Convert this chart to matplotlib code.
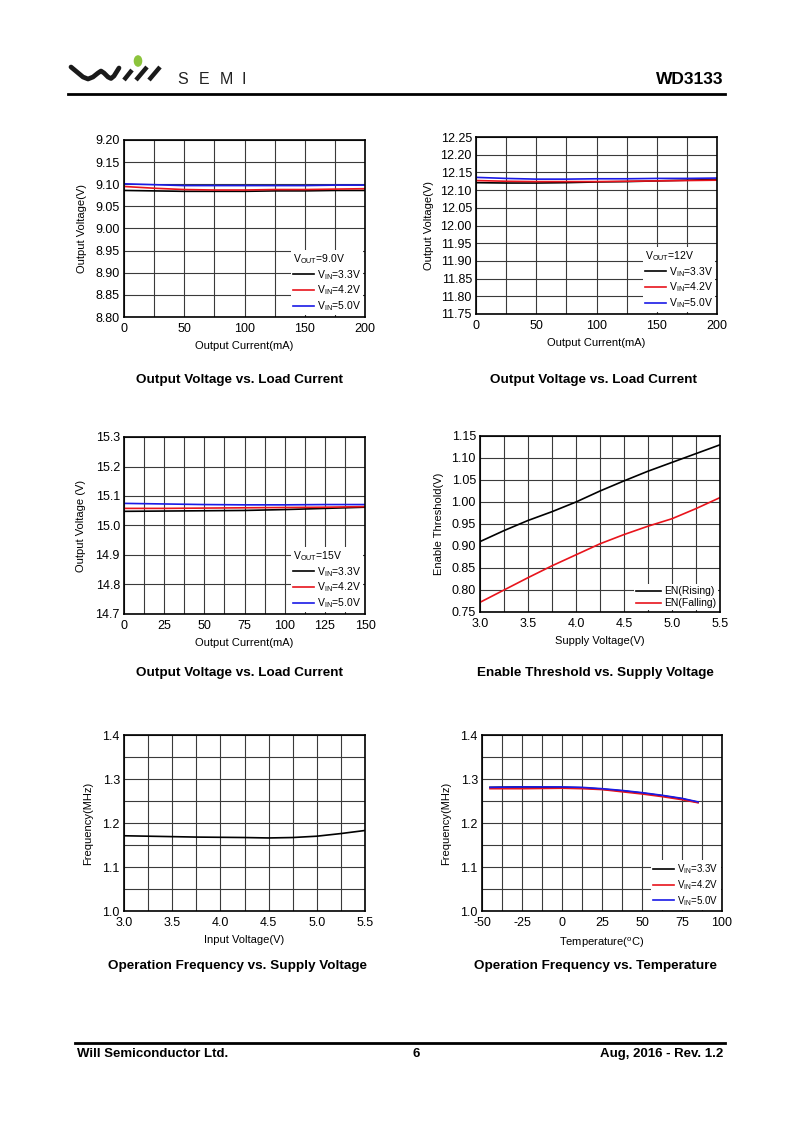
import matplotlib
matplotlib.use("Agg")
import matplotlib.pyplot as plt
from matplotlib.lines import Line2D
from matplotlib.patches import Circle
import numpy as np

plt.rcParams['font.family'] = ['Liberation Sans', 'DejaVu Sans']
plt.rcParams['mathtext.fontset'] = 'custom'
plt.rcParams['mathtext.rm'] = 'Liberation Sans'
plt.rcParams['mathtext.it'] = 'Liberation Sans'

# ---------------- data ----------------
# Chart 1: Vout=9.0V
c1_x = [0, 25, 50, 75, 100, 125, 150, 175, 200]
c1_33 = [9.086, 9.085, 9.084, 9.084, 9.084, 9.085, 9.085, 9.086, 9.086]
c1_42 = [9.095, 9.091, 9.088, 9.087, 9.087, 9.088, 9.088, 9.089, 9.090]
c1_50 = [9.101, 9.099, 9.097, 9.097, 9.097, 9.097, 9.097, 9.098, 9.098]

# Chart 2: Vout=12V
c2_x = [0, 25, 50, 75, 100, 125, 150, 175, 200]
c2_33 = [12.121, 12.120, 12.120, 12.121, 12.123, 12.124, 12.126, 12.128, 12.130]
c2_42 = [12.127, 12.125, 12.124, 12.124, 12.124, 12.125, 12.126, 12.127, 12.128]
c2_50 = [12.136, 12.133, 12.131, 12.131, 12.132, 12.132, 12.133, 12.133, 12.134]

# Chart 3: Vout=15V
c3_x = [0, 25, 50, 75, 100, 125, 150]
c3_33 = [15.048, 15.049, 15.050, 15.051, 15.054, 15.058, 15.062]
c3_42 = [15.058, 15.058, 15.059, 15.060, 15.061, 15.062, 15.064]
c3_50 = [15.075, 15.073, 15.071, 15.070, 15.070, 15.071, 15.071]

# Chart 4: Enable threshold
c4_x = [3.0, 3.25, 3.5, 3.75, 4.0, 4.25, 4.5, 4.75, 5.0, 5.25, 5.5]
c4_rise = [0.910, 0.935, 0.958, 0.978, 1.000, 1.025, 1.048, 1.070, 1.090, 1.110, 1.130]
c4_fall = [0.772, 0.800, 0.828, 0.855, 0.880, 0.905, 0.926, 0.945, 0.962, 0.985, 1.010]

# Chart 5: Frequency vs input voltage
c5_x = [3.0, 3.25, 3.5, 3.75, 4.0, 4.25, 4.5, 4.75, 5.0, 5.25, 5.5]
c5_f = [1.171, 1.170, 1.169, 1.168, 1.1675, 1.167, 1.166, 1.167, 1.170, 1.176, 1.183]

# Chart 6: Frequency vs temperature
c6_x = [-45, -25, 0, 12.5, 25, 37.5, 50, 62.5, 75, 85]
c6_33 = [1.281, 1.282, 1.281, 1.280, 1.277, 1.273, 1.268, 1.262, 1.255, 1.247]
c6_42 = [1.278, 1.278, 1.279, 1.278, 1.276, 1.271, 1.266, 1.260, 1.253, 1.246]
c6_50 = [1.281, 1.282, 1.282, 1.281, 1.278, 1.274, 1.269, 1.263, 1.256, 1.248]

lbl33 = r'V$_{\mathregular{IN}}$=3.3V'
lbl42 = r'V$_{\mathregular{IN}}$=4.2V'
lbl50 = r'V$_{\mathregular{IN}}$=5.0V'

W, H = 800, 1131
fig = plt.figure(figsize=(W / 100, H / 100), dpi=100)

RED = '#e8141c'
BLUE = '#1a1ae6'


def box(l, r, t, b):
    return [l / W, 1 - b / H, (r - l) / W, (b - t) / H]


def style(ax, xlim, ylim, xmaj, xmin, ymaj, yfmt, xfmt):
    ax.set_xlim(*xlim)
    ax.set_ylim(*ylim)
    ax.set_xticks(xmaj)
    ax.set_xticks(xmin, minor=True)
    ax.set_yticks(ymaj)
    ax.set_xticklabels([xfmt(v) for v in xmaj])
    ax.set_yticklabels([yfmt.format(v) for v in ymaj])
    ax.tick_params(which='both', length=0, labelsize=9, colors='black')
    ax.tick_params(axis='x', pad=4)
    ax.tick_params(axis='y', pad=3)
    ax.grid(True, which='both', color='#3a3a3a', linewidth=0.8)
    ax.set_axisbelow(True)
    for s in ax.spines.values():
        s.set_linewidth(1.2)
        s.set_color('black')


def leg(ax, title=None, fs=7.5, hl=2.0):
    lg = ax.legend(loc='lower right', fontsize=fs, frameon=True, fancybox=False,
                   edgecolor='none', framealpha=1, borderaxespad=0.15,
                   handlelength=hl, handletextpad=0.3, labelspacing=0.2,
                   borderpad=0.2, title=title, title_fontsize=fs,
                   alignment='left')
    return lg


xint = lambda v: f"{int(v)}"
x1f = lambda v: f"{v:.1f}"
LFS = 8

# Chart 1
ax1 = fig.add_axes(box(124, 365, 140, 317))
ax1.plot(c1_x, c1_33, color='black', lw=1.2, label=lbl33)
ax1.plot(c1_x, c1_42, color=RED, lw=1.2, label=lbl42)
ax1.plot(c1_x, c1_50, color=BLUE, lw=1.2, label=lbl50)
style(ax1, (0, 200), (8.80, 9.20), [0, 50, 100, 150, 200], np.arange(0, 201, 25),
      np.round(np.arange(8.80, 9.201, 0.05), 2), "{:.2f}", xint)
leg(ax1, r'V$_{\mathregular{OUT}}$=9.0V')
ax1.set_xlabel('Output Current(mA)', fontsize=LFS, labelpad=4.5)
ax1.set_ylabel('Output Voltage(V)', fontsize=LFS, labelpad=6)

# Chart 2
ax2 = fig.add_axes(box(476, 717, 137, 314))
ax2.plot(c2_x, c2_33, color='black', lw=1.2, label=lbl33)
ax2.plot(c2_x, c2_42, color=RED, lw=1.2, label=lbl42)
ax2.plot(c2_x, c2_50, color=BLUE, lw=1.2, label=lbl50)
style(ax2, (0, 200), (11.75, 12.25), [0, 50, 100, 150, 200], np.arange(0, 201, 25),
      np.round(np.arange(11.75, 12.251, 0.05), 2), "{:.2f}", xint)
leg(ax2, r'V$_{\mathregular{OUT}}$=12V')
ax2.set_xlabel('Output Current(mA)', fontsize=LFS, labelpad=4.5)
ax2.set_ylabel('Output Voltage(V)', fontsize=LFS, labelpad=5)

# Chart 3
ax3 = fig.add_axes(box(124, 365, 437, 614))
ax3.plot(c3_x, c3_33, color='black', lw=1.2, label=lbl33)
ax3.plot(c3_x, c3_42, color=RED, lw=1.2, label=lbl42)
ax3.plot(c3_x, c3_50, color=BLUE, lw=1.2, label=lbl50)
style(ax3, (0, 150), (14.7, 15.3), [0, 25, 50, 75, 100, 125, 150], np.arange(0, 150.1, 12.5),
      np.round(np.arange(14.7, 15.301, 0.1), 1), "{:.1f}", xint)
leg(ax3, r'V$_{\mathregular{OUT}}$=15V')
ax3.set_xlabel('Output Current(mA)', fontsize=LFS, labelpad=4.5)
ax3.set_ylabel('Output Voltage (V)', fontsize=LFS, labelpad=7)

# Chart 4
ax4 = fig.add_axes(box(480, 720, 436, 612))
ax4.plot(c4_x, c4_rise, color='black', lw=1.2, label='EN(Rising)')
ax4.plot(c4_x, c4_fall, color=RED, lw=1.2, label='EN(Falling)')
style(ax4, (3.0, 5.5), (0.75, 1.15), [3.0, 3.5, 4.0, 4.5, 5.0, 5.5], np.arange(3.0, 5.51, 0.25),
      np.round(np.arange(0.75, 1.151, 0.05), 2), "{:.2f}", x1f)
leg(ax4, hl=2.4)
ax4.set_xlabel('Supply Voltage(V)', fontsize=LFS, labelpad=4.5)
ax4.set_ylabel('Enable Threshold(V)', fontsize=LFS, labelpad=5.5)

# Chart 5
ax5 = fig.add_axes(box(124, 365, 735, 911))
ax5.plot(c5_x, c5_f, color='black', lw=1.2)
style(ax5, (3.0, 5.5), (1.0, 1.4), [3.0, 3.5, 4.0, 4.5, 5.0, 5.5], np.arange(3.0, 5.51, 0.25),
      np.round(np.arange(1.0, 1.401, 0.1), 1), "{:.1f}", x1f)
ax5.set_yticks(np.round(np.arange(1.0, 1.401, 0.05), 2), minor=True)
ax5.set_xlabel('Input Voltage(V)', fontsize=LFS, labelpad=4.5)
ax5.set_ylabel('Frequency(MHz)', fontsize=LFS, labelpad=7)

# Chart 6
ax6 = fig.add_axes(box(482, 722, 735, 911))
ax6.plot(c6_x, c6_33, color='black', lw=1.2, label=lbl33)
ax6.plot(c6_x, c6_42, color=RED, lw=1.2, label=lbl42)
ax6.plot(c6_x, c6_50, color=BLUE, lw=1.2, label=lbl50)
style(ax6, (-50, 100), (1.0, 1.4), [-50, -25, 0, 25, 50, 75, 100], np.arange(-50, 100.1, 12.5),
      np.round(np.arange(1.0, 1.401, 0.1), 1), "{:.1f}", xint)
ax6.set_yticks(np.round(np.arange(1.0, 1.401, 0.05), 2), minor=True)
leg(ax6, fs=7, hl=2.2)
ax6.set_xlabel(r'Temperature($^{\mathregular{o}}$C)', fontsize=LFS, labelpad=5)
ax6.set_ylabel('Frequency(MHz)', fontsize=LFS, labelpad=7)

# Titles
def ftext(x, y, s, **kw):
    fig.text(x / W, 1 - y / H, s, **kw)

tkw = dict(fontsize=9.7, fontweight='bold', ha='center', va='center')
ftext(240, 380, 'Output Voltage vs. Load Current', **tkw)
ftext(594, 380, 'Output Voltage vs. Load Current', **tkw)
ftext(240, 673, 'Output Voltage vs. Load Current', **tkw)
ftext(595, 673, 'Enable Threshold vs. Supply Voltage', **tkw)
ftext(238, 966, 'Operation Frequency vs. Supply Voltage', **tkw)
ftext(595, 966, 'Operation Frequency vs. Temperature', **tkw)

# Header
ftext(723, 79, 'WD3133', fontsize=12.5, fontweight='bold', ha='right', va='center')
fig.add_artist(Line2D([68 / W, 725 / W], [1 - 94 / H, 1 - 94 / H], color='black', lw=2))
for xc, ch in [(183, 'S'), (204, 'E'), (226, 'M'), (244, 'I')]:
    ftext(xc, 79, ch, fontsize=11.5, ha='center', va='center', color='#222222')

# Logo (w + slashes + green dot)
def px(pts):
    xs = [p[0] / W for p in pts]
    ys = [1 - p[1] / H for p in pts]
    return xs, ys

wx, wy = px([(71, 67), (77, 72), (83, 77), (88, 79), (93, 77), (98, 73), (101, 71),
             (104, 73), (108, 77), (111, 78.5), (114, 76), (119, 68)])
fig.add_artist(Line2D(wx, wy, color='#1a1a1a', lw=3.4, solid_capstyle='round', solid_joinstyle='round'))
for (a, b) in [((124, 80), (132, 70)), ((136, 80), (147, 67)), ((149, 80), (160, 67))]:
    sx, sy = px([a, b])
    fig.add_artist(Line2D(sx, sy, color='#1a1a1a', lw=3.2, solid_capstyle='butt'))
fig.add_artist(Circle((138 / W, 1 - 61 / H), 3.6 / W, color='#8cc43c', transform=fig.transFigure))

# Footer
fig.add_artist(Line2D([75 / W, 725 / W], [1 - 1043 / H, 1 - 1043 / H], color='black', lw=2))
fkw = dict(fontsize=9.5, fontweight='bold', va='center')
ftext(77, 1054, 'Will Semiconductor Ltd.', ha='left', **fkw)
ftext(416, 1054, '6', ha='center', **fkw)
ftext(723, 1054, 'Aug, 2016 - Rev. 1.2', ha='right', **fkw)

fig.savefig('out.png', dpi=100)
